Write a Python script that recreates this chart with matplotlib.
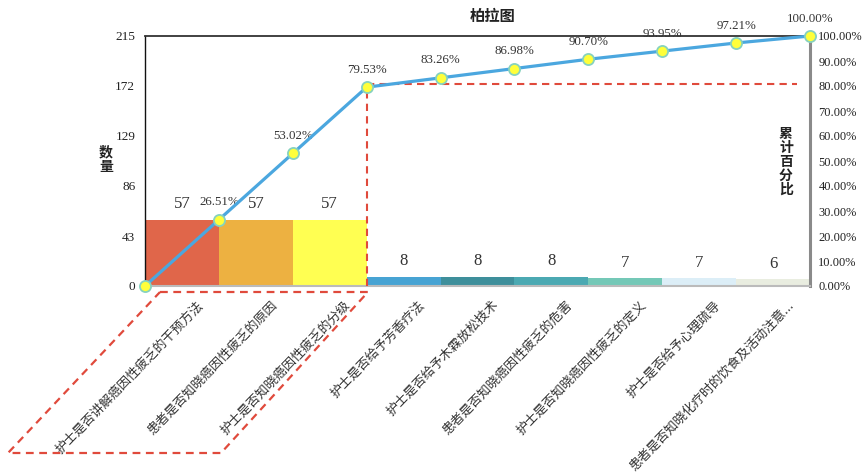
import numpy as np
import matplotlib
matplotlib.use("Agg")
import matplotlib.pyplot as plt
from matplotlib.lines import Line2D
from matplotlib.transforms import ScaledTranslation

# ---- data ----
categories = [
    "护士是否讲解癌因性疲乏的干预方法",
    "患者是否知晓癌因性疲乏的原因",
    "护士是否知晓癌因性疲乏的分级",
    "护士是否给予芳香疗法",
    "护士是否给予木霖放松技术",
    "患者是否知晓癌因性疲乏的危害",
    "护士是否知晓癌因性疲乏的定义",
    "护士是否给予心理疏导",
    "患者是否知晓化疗时的饮食及活动注意...",
]
counts = [57, 57, 57, 8, 8, 8, 7, 7, 6]
cum_pct = [26.51, 53.02, 79.53, 83.26, 86.98, 90.70, 93.95, 97.21, 100.00]
left_ticks = [0, 43, 86, 129, 172, 215]
right_ticks = [0, 10, 20, 30, 40, 50, 60, 70, 80, 90, 100]
bar_colors = ["#E0664A", "#EDB141", "#FFFF52", "#47A3D3", "#3E8F9B",
              "#4BA9B2", "#74C8B7", "#DCEEF7", "#E9EDE0"]

SERIF = ["Liberation Serif", "DejaVu Serif"]
CJK = ["Noto Sans CJK SC", "DejaVu Sans"]

W, H = 866, 472
fig = plt.figure(figsize=(W / 100, H / 100), dpi=100)


def fx(px):
    return px / W


def fy(py):
    return 1 - py / H


ax = fig.add_axes([fx(145), fy(286), fx(810) - fx(145), fy(36) - fy(286)])
n = len(counts)
xc = np.arange(n) + 0.5
ax.bar(xc, counts, width=1.0, color=bar_colors, linewidth=0, zorder=2)
ax.set_xlim(0, n)
ax.set_ylim(0, left_ticks[-1])
ax.set_yticks(left_ticks)
ax.set_yticklabels([str(t) for t in left_ticks], family=SERIF, fontsize=9.5, color="#222222")
ax.tick_params(axis="y", length=0, pad=7)

# category labels
ax.set_xticks(xc)
ax.set_xticklabels(categories, family=CJK, fontsize=9.3, color="#333333",
                   rotation=46, rotation_mode="anchor", ha="right", va="center")
ax.tick_params(axis="x", length=0, pad=0)
shift = ScaledTranslation(19 / 100, -17 / 100, fig.dpi_scale_trans)
for lab in ax.get_xticklabels():
    lab.set_transform(lab.get_transform() + shift)

for x, c in zip(xc, counts):
    ax.annotate(str(c), (x, c), xytext=(0, 11), textcoords="offset points",
                ha="center", va="center", family=SERIF, fontsize=12, color="#333333")

for side, col, lw in [("left", "#111111", 1.0), ("top", "#333333", 1.3),
                      ("right", "#8A8A8A", 2.2), ("bottom", "#BBBBBB", 1.5)]:
    ax.spines[side].set_color(col)
    ax.spines[side].set_linewidth(lw)

# cumulative percentage axis
ax2 = ax.twinx()
ax2.set_ylim(0, 100)
ax2.set_yticks(right_ticks)
ax2.set_yticklabels([f"{t:.2f}%" for t in right_ticks], family=SERIF, fontsize=8.9, color="#222222")
ax2.tick_params(axis="y", length=0, pad=6)
for side in ["left", "top", "right", "bottom"]:
    ax2.spines[side].set_visible(False)

line_x = np.arange(n + 1)
line_y = [0.0] + cum_pct

# 80% reference lines
red = "#E04A3C"
ax2.plot([3, 3], [0, cum_pct[2]], color=red, lw=1.5, dashes=(3.5, 2.5), zorder=3)
ax2.plot([3, 8.82], [80.6, 80.6], color=red, lw=1.5, dashes=(3.5, 2.5), zorder=3)

ax2.plot(line_x, line_y, color="#4BA7DF", lw=2.3, marker="o", ms=8,
         mfc="#FFFF3A", mec="#86D2BE", mew=1.3, zorder=5, clip_on=False)
for x, p in zip(line_x[1:], cum_pct):
    ax2.annotate(f"{p:.2f}%", (x, p), xytext=(0, 12.5), textcoords="offset points",
                 ha="center", va="center", family=SERIF, fontsize=9.3, color="#333333",
                 annotation_clip=False)

# frame around the three leading causes
frame = [(160, 292), (368, 292), (221, 453), (8, 453), (160, 292)]
fig.add_artist(Line2D([fx(p[0]) for p in frame], [fy(p[1]) for p in frame],
                      transform=fig.transFigure, color=red, lw=1.6, dashes=(3.5, 2.5)))

# titles
fig.text(fx(493), fy(16), "柏拉图", family=CJK, fontsize=11, fontweight="bold",
         ha="center", va="center", color="#222222")
fig.text(fx(106), fy(160), "数\n量", family=CJK, fontsize=10, fontweight="bold",
         ha="center", va="center", linespacing=1.05, color="#222222")
fig.text(fx(786), fy(162), "累\n计\n百\n分\n比", family=CJK, fontsize=10, fontweight="bold",
         ha="center", va="center", linespacing=1.0, color="#222222")

fig.savefig("out.png", dpi=100)
